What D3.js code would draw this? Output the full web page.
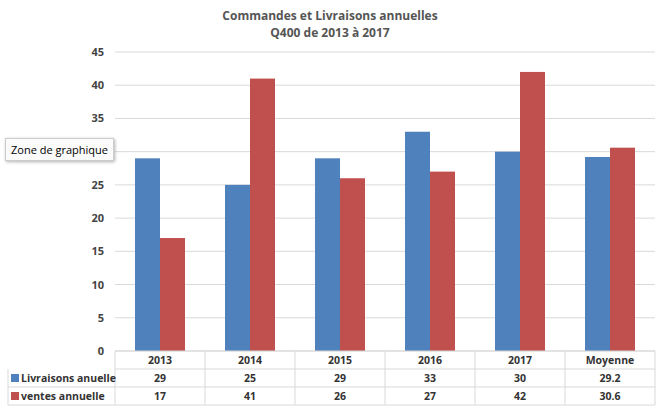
<!DOCTYPE html>
<html><head><meta charset="utf-8">
<script src="https://cdn.jsdelivr.net/npm/d3@7"></script>
<style>
body{margin:0;background:#fff;}
svg{font-family:"Open Sans","DejaVu Sans",sans-serif;}
.tip{position:absolute;left:5px;top:138px;padding:3px 5px;background:#fbfbfb;border:1px solid #ccc;box-shadow:1px 1px 3px rgba(0,0,0,.3);font:11px "Open Sans",sans-serif;color:#000;}
</style></head><body>
<svg id="chart"></svg>
<div class="tip">Zone de graphique</div>
<script>
const width = 667, height = 409;
const categories = ["2013","2014","2015","2016","2017","Moyenne"];
const livraisons = [29,25,29,33,30,29.2];
const ventes = [17,41,26,27,42,30.6];
const series = [
  {name:"Livraisons anuelle", values:livraisons, color:"#4f81bd"},
  {name:"ventes annuelle", values:ventes, color:"#c0504d"}
];
const yTicks = [0,5,10,15,20,25,30,35,40,45];

const svg = d3.select("#chart").attr("width", width).attr("height", height);
const plotLeft = 115, plotRight = 655, plotTop = 52, plotBottom = 351, rowH = 18;

const x = d3.scaleBand().domain(categories).range([plotLeft, plotRight]);
const xs = d3.scaleBand().domain(series.map(s => s.name)).range([0, x.bandwidth()]).paddingOuter(0.8);
const y = d3.scaleLinear().domain([0,45]).range([plotBottom, plotTop]);

// title
svg.append("text").attr("x",330).attr("y",20).attr("text-anchor","middle")
  .attr("font-size",12).attr("font-weight","bold").attr("fill","#555").text("Commandes et Livraisons annuelles");
svg.append("text").attr("x",330).attr("y",37).attr("text-anchor","middle")
  .attr("font-size",12).attr("font-weight","bold").attr("fill","#555").text("Q400 de 2013 à 2017");

// gridlines + y labels
svg.selectAll(".grid").data(yTicks).enter().append("line")
  .attr("x1",plotLeft).attr("x2",plotRight).attr("y1",d=>y(d)).attr("y2",d=>y(d))
  .attr("stroke","#d9d9d9");
svg.selectAll(".ylab").data(yTicks).enter().append("text")
  .attr("x",104).attr("y",d=>y(d)+4).attr("text-anchor","end")
  .attr("font-size",11).attr("font-weight","bold").attr("fill","#444").text(d=>d);

// bars
series.forEach(s => {
  svg.append("g").selectAll("rect").data(s.values).enter().append("rect")
    .attr("x",(d,i)=>x(categories[i])+xs(s.name))
    .attr("width",xs.bandwidth())
    .attr("y",d=>y(d)).attr("height",d=>plotBottom-y(d))
    .attr("fill",s.color);
});

// data table
const tb = svg.append("g").attr("stroke","#d9d9d9").attr("fill","none");
tb.append("line").attr("x1",plotLeft).attr("x2",plotRight).attr("y1",plotBottom).attr("y2",plotBottom);
[1,2,3].forEach(r=>tb.append("line").attr("x1",r===1?plotLeft:8).attr("x2",plotRight)
  .attr("y1",plotBottom+r*rowH).attr("y2",plotBottom+r*rowH));
tb.append("line").attr("x1",8).attr("x2",8).attr("y1",plotBottom+rowH).attr("y2",plotBottom+3*rowH);
categories.forEach(c=>tb.append("line").attr("x1",x(c)).attr("x2",x(c)).attr("y1",plotBottom).attr("y2",plotBottom+3*rowH));
tb.append("line").attr("x1",plotRight).attr("x2",plotRight).attr("y1",plotBottom).attr("y2",plotBottom+3*rowH);

svg.selectAll(".cat").data(categories).enter().append("text")
  .attr("x",d=>x(d)+x.bandwidth()/2).attr("y",plotBottom+13).attr("text-anchor","middle")
  .attr("font-size",10.5).attr("font-weight","bold").attr("fill","#333").text(d=>d);

series.forEach((s,r)=>{
  const yy = plotBottom+(r+1)*rowH;
  svg.append("rect").attr("x",11).attr("y",yy+5).attr("width",8).attr("height",8).attr("fill",s.color);
  svg.append("text").attr("x",21).attr("y",yy+13).attr("font-size",10.5).attr("font-weight","bold")
    .attr("fill","#333").text(s.name);
  svg.append("g").selectAll("text").data(s.values).enter().append("text")
    .attr("x",(d,i)=>x(categories[i])+x.bandwidth()/2).attr("y",yy+13).attr("text-anchor","middle")
    .attr("font-size",10.5).attr("font-weight","bold").attr("fill","#333").text(d=>d);
});
</script>
</body></html>
